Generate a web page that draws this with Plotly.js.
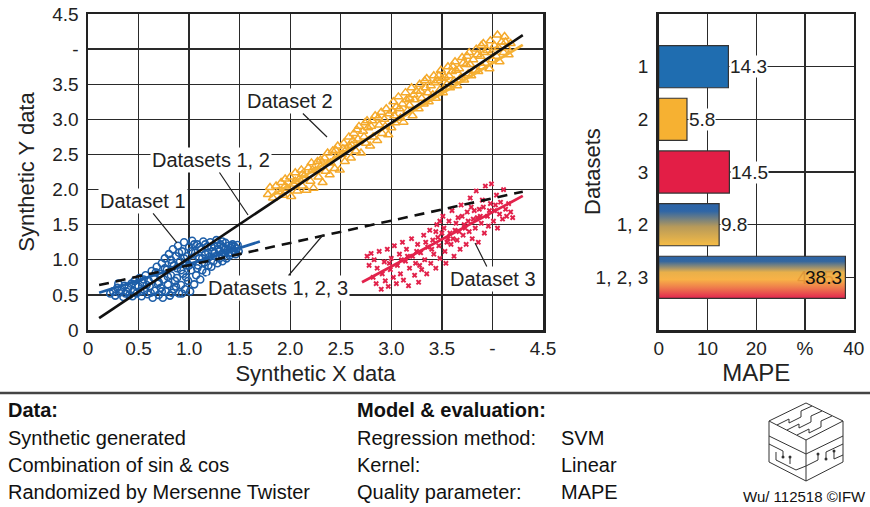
<!DOCTYPE html>
<html><head><meta charset="utf-8">
<script src="https://cdn.plot.ly/plotly-3.0.1.min.js"></script>
<style>html,body{margin:0;padding:0;background:#fff;} #chart{width:870px;height:507px;}</style>
</head><body><div id="chart"></div>
<script>
// ---------- Dataset 1 (blue circles) ----------
const d1x = [0.22,0.25,0.27,0.29,0.31,0.33,0.35,0.36,0.38,0.40,0.41,0.43,0.45,0.46,0.48,0.50,0.51,0.53,0.54,0.56,0.57,0.59,0.60,0.61,0.63,0.64,0.65,0.66,0.68,0.69,0.70,0.71,0.72,0.73,0.74,0.75,0.76,0.77,0.78,0.79,0.80,0.81,0.82,0.83,0.84,0.85,0.86,0.87,0.88,0.89,0.90,0.91,0.92,0.93,0.94,0.95,0.96,0.97,0.98,0.99,1.00,1.01,1.02,1.03,1.04,1.05,1.06,1.07,1.08,1.09,1.10,1.11,1.12,1.13,1.14,1.15,1.16,1.17,1.18,1.19,1.20,1.21,1.22,1.23,1.24,1.25,1.26,1.27,1.28,1.29,1.30,1.31,1.32,1.33,1.34,1.35,1.36,1.37,1.38,1.39,1.40,1.41,1.42,1.43,1.44,1.45,1.46,1.47,1.48,1.49,
  0.30,0.37,0.44,0.47,0.52,0.55,0.58,0.62,0.67,0.70,0.73,0.76,0.79,0.82,0.85,0.87,0.90,0.92,0.95,0.97,1.00,1.02,1.05,1.08,1.10,1.13,1.16,1.19,1.22,1.25,1.28,1.30,1.33,1.36,1.39,1.42,1.45,0.83,0.88,0.93];
const d1y = [0.52,0.55,0.49,0.60,0.53,0.57,0.47,0.63,0.55,0.60,0.50,0.66,0.56,0.70,0.52,0.62,0.74,0.48,0.67,0.57,0.78,0.51,0.70,0.62,0.84,0.46,0.74,0.56,0.90,0.66,0.50,0.80,0.60,0.95,0.46,0.72,1.02,0.55,0.86,0.65,1.08,0.49,0.78,0.95,1.15,0.58,0.70,1.05,0.88,1.20,0.52,0.98,0.64,1.12,0.80,1.25,0.58,0.92,1.05,0.70,1.18,0.55,0.85,1.27,0.98,0.65,1.10,0.78,1.22,0.92,1.02,0.72,1.15,0.85,1.26,0.96,1.08,0.82,1.19,0.92,1.04,1.25,0.90,1.12,0.98,1.20,1.05,1.28,0.95,1.15,1.02,1.22,1.08,0.98,1.18,1.10,1.24,1.02,1.14,1.20,1.06,1.17,1.10,1.22,1.13,1.19,1.08,1.16,1.21,1.12,
  0.66,0.52,0.48,0.63,0.55,0.72,0.64,0.53,0.82,0.68,0.55,0.88,0.76,1.00,0.92,0.62,1.10,0.85,1.02,0.75,0.92,1.12,1.22,0.88,1.18,1.02,1.22,1.10,1.18,1.10,1.24,1.12,1.26,1.15,1.09,1.20,1.12,0.53,0.74,0.52];

// ---------- Dataset 2 (orange triangles) ----------
const d2x = [1.78,1.80,1.83,1.86,1.88,1.91,1.93,1.95,1.97,2.00,2.01,2.03,2.05,2.07,2.09,2.11,2.12,2.14,2.16,2.18,2.20,2.21,2.23,2.25,2.27,2.28,2.30,2.32,2.34,2.35,2.37,2.39,2.40,2.42,2.44,2.46,2.47,2.49,2.51,2.53,2.54,2.56,2.58,2.60,2.61,2.63,2.65,2.67,2.68,2.70,2.72,2.74,2.75,2.77,2.79,2.81,2.82,2.84,2.86,2.88,2.90,2.91,2.93,2.95,2.97,2.98,3.00,3.02,3.04,3.05,3.07,3.09,3.11,3.12,3.14,3.16,3.18,3.20,3.21,3.23,3.25,3.27,3.28,3.30,3.32,3.34,3.35,3.37,3.39,3.41,3.42,3.44,3.46,3.48,3.49,3.51,3.53,3.55,3.56,3.58,3.60,3.62,3.63,3.65,3.67,3.69,3.70,3.72,3.74,3.76,3.77,3.79,3.81,3.83,3.84,3.86,3.88,3.90,3.91,3.93,3.95,3.97,3.98,4.00,4.02,4.04,4.05,4.07,4.09,4.11,4.12,4.14,4.16,4.18,
  1.95,2.05,2.12,2.22,2.30,2.38,2.45,2.52,2.58,2.66,2.73,2.80,2.87,2.94,3.01,3.08,3.15,3.22,3.29,3.36,3.43,3.50,3.57,3.64,3.71,3.78,3.85,3.92,3.99,4.06,4.13,2.62,2.76,3.03,3.18,3.33,3.47,3.61,3.75,3.89];
const d2y = [1.93,2.03,1.88,2.05,1.97,2.10,1.92,2.15,2.02,2.18,1.90,2.08,2.24,1.98,2.15,2.28,2.05,2.20,1.99,2.31,2.12,2.38,2.02,2.27,2.40,2.18,2.33,2.10,2.45,2.26,2.52,2.21,2.38,2.55,2.30,2.47,2.62,2.28,2.50,2.66,2.40,2.58,2.75,2.45,2.63,2.80,2.55,2.72,2.90,2.52,2.83,2.95,2.66,2.88,2.62,2.98,2.75,3.05,2.70,2.92,3.10,2.80,3.00,3.15,2.78,3.08,2.88,3.25,2.95,3.18,3.32,3.02,3.22,2.96,3.38,3.12,3.30,3.45,3.05,3.28,3.40,3.15,3.50,3.30,3.22,3.45,3.58,3.25,3.48,3.35,3.62,3.30,3.55,3.42,3.70,3.38,3.60,3.50,3.75,3.45,3.68,3.55,3.82,3.48,3.72,3.60,3.88,3.56,3.78,3.65,3.95,3.62,3.85,3.70,4.00,3.68,3.90,3.75,4.08,3.80,3.98,3.72,4.12,3.85,4.05,3.90,4.20,3.82,4.10,3.95,4.18,4.02,3.92,4.08,
  2.05,2.12,2.22,2.28,2.42,2.38,2.56,2.58,2.62,2.85,2.75,2.90,3.02,2.90,3.12,3.15,3.28,3.35,3.40,3.38,3.52,3.58,3.62,3.70,3.80,3.78,3.92,3.95,3.95,4.02,4.10,2.70,2.98,3.05,3.20,3.55,3.62,3.75,3.90,4.05];

// ---------- Dataset 3 (red crosses) ----------
const d3x = [2.76,2.78,2.80,2.82,2.83,2.85,2.86,2.88,2.90,2.91,2.93,2.94,2.96,2.97,2.99,3.00,3.02,3.03,3.05,3.06,3.08,3.09,3.11,3.12,3.14,3.15,3.17,3.18,3.20,3.21,3.23,3.24,3.26,3.27,3.29,3.30,3.32,3.33,3.35,3.36,3.38,3.39,3.41,3.42,3.44,3.45,3.47,3.48,3.50,3.51,3.53,3.54,3.56,3.57,3.59,3.60,3.62,3.63,3.65,3.66,3.68,3.69,3.71,3.72,3.74,3.75,3.77,3.78,3.80,3.81,3.83,3.84,3.86,3.87,3.89,3.90,3.92,3.93,3.95,3.96,3.98,3.99,4.01,4.02,4.04,4.05,4.07,4.08,4.10,4.11,4.13,4.14,4.16,4.18,4.20,
  3.25,3.34,3.46,3.52,3.58,3.64,3.70,3.76,3.82,3.88,3.40,3.55,3.61,3.73,3.85,3.97,3.48,3.67,2.98,3.10,3.16,3.28,3.44,3.79,3.91,4.03];
const d3y = [1.05,0.92,1.09,0.75,1.00,0.66,0.88,1.12,0.58,0.80,0.97,0.70,1.15,0.62,0.86,1.02,0.75,1.20,0.66,0.92,1.08,0.80,1.25,0.71,0.98,1.15,0.63,0.88,1.30,1.05,0.78,0.95,1.22,0.68,1.10,0.86,1.35,1.00,0.80,1.18,1.42,0.95,1.28,1.08,0.88,1.50,1.20,1.02,1.38,1.62,1.12,0.95,1.30,1.55,1.22,1.70,1.05,1.42,1.28,1.60,1.15,1.78,1.35,1.50,1.22,1.68,1.40,1.88,1.30,1.58,1.45,1.98,1.25,1.72,1.52,1.85,1.38,2.05,1.62,1.48,1.80,2.08,1.55,1.70,1.92,1.45,1.65,1.82,1.58,2.00,1.72,1.62,1.80,1.68,1.60,
  1.12,1.25,1.32,1.45,1.38,1.52,1.62,1.55,1.70,1.62,1.15,1.25,1.30,1.45,1.60,1.70,1.55,1.40,0.95,1.00,1.05,0.92,1.40,1.75,1.75,1.78];

// ---------- Regression lines (end points) ----------
const fit1x = [0.11, 1.70],  fit1y = [0.53, 1.26];
const fit2x = [1.80, 4.30],  fit2y = [1.90, 4.06];
const fit3x = [2.71, 4.30],  fit3y = [0.68, 1.91];
const fit12x = [0.11, 4.30], fit12y = [0.17, 4.20];
const fit123x = [0.11, 4.30], fit123y = [0.64, 1.97];

// ---------- Axis ticks ----------
const mainTickVals = [0,0.5,1,1.5,2,2.5,3,3.5,4,4.5];
const xTickText = ['0','0.5','1.0','1.5','2.0','2.5','3.0','3.5','-','4.5'];
const yTickText = ['0','0.5','1.0','1.5','2.0','2.5','3.0','3.5','-','4.5'];

// ---------- MAPE bar chart ----------
const mapeCategories = ['1','2','3','1, 2','1, 2, 3'];
const mapeBarLengths = [14.3, 5.8, 14.5, 12.4, 38.3];   // bar lengths as drawn
const mapeLabels = ['14.3', '5.8', '14.5', '9.8', '38.3']; // printed values
const mapeTickVals = [0,10,20,30,40];
const mapeTickText = ['0','10','20','%','40'];

// ---------- Styling ----------
const FONT = 'Liberation Sans, Arial, Helvetica, sans-serif';
const INK = '#222';
const BLUE = '#1d5ea8', ORANGE = '#f5aa2c', RED = '#e2224b';
const W = 870, H = 507;
const px = x => x / W, py = y => 1 - y / H;

const traces = [];
traces.push({x:d1x, y:d1y, type:'scatter', mode:'markers', name:'Dataset 1',
  marker:{symbol:'circle-open', size:7, color:BLUE, line:{width:1.6, color:BLUE}}, hoverinfo:'skip'});
traces.push({x:d2x, y:d2y, type:'scatter', mode:'markers', name:'Dataset 2',
  marker:{symbol:'triangle-up-open', size:8, color:ORANGE, line:{width:1.5, color:ORANGE}}, hoverinfo:'skip'});
traces.push({x:d3x, y:d3y, type:'scatter', mode:'markers', name:'Dataset 3',
  marker:{symbol:'x', size:5, color:RED, line:{width:0}}, hoverinfo:'skip'});
traces.push({x:fit1x, y:fit1y, type:'scatter', mode:'lines', line:{color:BLUE, width:2.8}, hoverinfo:'skip'});
traces.push({x:fit2x, y:fit2y, type:'scatter', mode:'lines', line:{color:'#f5b236', width:2.8}, hoverinfo:'skip'});
traces.push({x:fit3x, y:fit3y, type:'scatter', mode:'lines', line:{color:RED, width:2.8}, hoverinfo:'skip'});
traces.push({x:fit12x, y:fit12y, type:'scatter', mode:'lines', line:{color:'#111', width:2.6}, hoverinfo:'skip'});
traces.push({x:fit123x, y:fit123y, type:'scatter', mode:'lines', line:{color:'#111', width:2.6, dash:'10px,7px'}, hoverinfo:'skip'});

// Solid bars (datasets 1, 2, 3)
const solidColors = ['#1f6db0', '#f6b132', '#e31e46'];
traces.push({type:'bar', orientation:'h', x:mapeBarLengths.slice(0,3), y:[0,1,2], width:0.8,
  marker:{color:solidColors, line:{color:'#333', width:1.2}}, xaxis:'x2', yaxis:'y2', hoverinfo:'skip'});

// Gradient bars (combined datasets) drawn as filled polygons
const gradScales = [
  [[0,'#2c64a8'],[0.18,'#2f66a6'],[0.55,'#b79a5a'],[1,'#f7bc44']],
  [[0,'#2c64a8'],[0.12,'#34679f'],[0.38,'#e9b04a'],[0.55,'#f8b247'],[0.75,'#ee7a4c'],[1,'#e3244f']]
];
[3,4].forEach((i, k) => {
  const v = mapeBarLengths[i];
  traces.push({type:'scatter', mode:'lines', xaxis:'x2', yaxis:'y2', hoverinfo:'skip',
    x:[0, v, v, 0, 0], y:[i-0.4, i-0.4, i+0.4, i+0.4, i-0.4],
    fill:'toself', fillgradient:{type:'vertical', colorscale:gradScales[k], start:i-0.4, stop:i+0.4},
    line:{color:'#333', width:1.2}});
});

const annotations = [];
// Callout labels on the scatter chart
const callouts = [
  {text:'Dataset 2', x:2.364, y:2.749, ax:-37, ay:-36},
  {text:'Datasets 1, 2', x:1.583, y:1.638, ax:-37, ay:-55},
  {text:'Dataset 1', x:0.880, y:1.239, ax:-34, ay:-42},
  {text:'Datasets 1, 2, 3', x:2.324, y:1.353, ax:-45, ay:53},
  {text:'Dataset 3', x:3.828, y:1.239, ax:18, ay:36}
];
callouts.forEach(c => annotations.push({xref:'x', yref:'y', x:c.x, y:c.y, ax:c.ax, ay:c.ay, text:c.text,
  showarrow:true, arrowhead:0, arrowwidth:1.2, arrowcolor:INK, standoff:0, startstandoff:0,
  bgcolor:'#fff', borderpad:1, font:{family:FONT, size:20, color:INK}}));

// Bar value labels
annotations.push({xref:'x2', yref:'y2', x:36.4, y:4, text:'44.5', showarrow:false, xanchor:'right',
  font:{family:FONT, size:19, color:'rgba(205,125,40,0.45)'}});
mapeLabels.forEach((t, i) => {
  const v = mapeBarLengths[i];
  if (i < 4) {
    annotations.push({xref:'x2', yref:'y2', x:v, y:i, text:t, showarrow:false, xanchor:'left', xshift:1,
      bgcolor:'#fff', borderpad:0, font:{family:FONT, size:19, color:INK}});
  } else {
    annotations.push({xref:'x2', yref:'y2', x:v, y:i, text:t, showarrow:false, xanchor:'right', xshift:-1,
      font:{family:FONT, size:19, color:'#111'}});
  }
});
// Bar chart y title
annotations.push({xref:'paper', yref:'paper', x:px(593), y:py(172), text:'Datasets', textangle:-90, showarrow:false,
  xanchor:'center', yanchor:'middle', font:{family:FONT, size:22, color:INK}});

// Info block text
const txt = (x, y, t, bold, size, anchor) => annotations.push({xref:'paper', yref:'paper', x:px(x), y:py(y),
  text: bold ? '<b>'+t+'</b>' : t, showarrow:false, xanchor:anchor||'left', yanchor:'middle',
  font:{family:FONT, size:size||20, color:'#111'}});
txt(6, 410, 'Data:', true);
txt(6, 438, 'Synthetic generated');
txt(6, 465, 'Combination of sin &amp; cos');
txt(6, 492, 'Randomized by Mersenne Twister');
txt(355, 410, 'Model &amp; evaluation:', true);
txt(355, 438, 'Regression method:');
txt(355, 465, 'Kernel:');
txt(355, 492, 'Quality parameter:');
txt(559, 438, 'SVM');
txt(559, 465, 'Linear');
txt(559, 492, 'MAPE');
txt(868, 496, 'Wu/ 112518 ©IFW', false, 15, 'right');

// Shapes: separator line and logo
const path = pts => pts.map((p, j) => (j ? 'L' : 'M') + px(p[0]).toFixed(5) + ',' + py(p[1]).toFixed(5)).join(' ');
const shapes = [
  {type:'line', xref:'paper', yref:'paper', x0:0, x1:1, y0:py(393), y1:py(393), line:{color:'#444', width:2.5}}
];
const logoPaths = [
  [[769,421],[806,403],[843,421],[843,462],[806,481],[769,462],[769,421]],
  [[769,421],[806,440],[843,421]],
  [[806,440],[806,481]],
  [[777,425],[789,419],[789,423],[801,417],[801,411],[812,406]],
  [[787,430],[799,424],[799,428],[811,422],[811,416],[822,411]],
  [[797,435],[809,429],[809,433],[821,427],[821,421],[832,416]],
  [[769,436],[806,454]],
  [[806,454],[843,436]],
  [[769,444],[783,451],[783,456]],
  [[776,452],[776,460],[796,470],[806,466]],
  [[790,458],[790,464]],
  [[843,444],[826,452],[826,458]],
  [[806,466],[818,460],[818,455]],
  [[834,452],[834,459],[843,455]]
];
logoPaths.forEach(p => shapes.push({type:'path', xref:'paper', yref:'paper', path:path(p), line:{color:'#333', width:1}}));
[[783,457],[790,457],[826,459],[818,454],[834,451]].forEach(c => shapes.push({type:'circle', xref:'paper', yref:'paper',
  x0:px(c[0]-1.5), x1:px(c[0]+1.5), y0:py(c[1]+1.5), y1:py(c[1]-1.5), fillcolor:'#333', line:{width:0}}));

const axBase = {showline:true, mirror:true, linecolor:INK, linewidth:2.5, showgrid:true, gridcolor:'#2a2a2a', gridwidth:1.4,
  zeroline:false, ticks:'', tickmode:'array', tickfont:{family:FONT, size:19, color:INK}, fixedrange:true};

const layout = {
  width:W, height:H, margin:{l:0, r:0, t:0, b:0}, paper_bgcolor:'#fff', plot_bgcolor:'#fff', showlegend:false,
  font:{family:FONT, color:INK},
  xaxis: Object.assign({}, axBase, {domain:[px(88), px(543)], range:[0,4.5], tickvals:mainTickVals, ticktext:xTickText,
    ticklabelstandoff:0, title:{text:'Synthetic X data', font:{family:FONT, size:22, color:INK}, standoff:8}}),
  yaxis: Object.assign({}, axBase, {domain:[py(330), py(14)], range:[0,4.5], tickvals:mainTickVals, ticktext:yTickText,
    ticklabelstandoff:3, title:{text:'Synthetic Y data', font:{family:FONT, size:22, color:INK}, standoff:12}}),
  xaxis2: Object.assign({}, axBase, {domain:[px(658.7), px(853.7)], range:[0,40], anchor:'y2', tickvals:mapeTickVals, ticktext:mapeTickText,
    ticklabelstandoff:0, title:{text:'MAPE', font:{family:FONT, size:24, color:INK}, standoff:4}}),
  yaxis2: Object.assign({}, axBase, {domain:[py(330), py(14)], range:[5,-1], anchor:'x2', tickvals:[0,1,2,3,4], ticktext:mapeCategories,
    ticklabelstandoff:4}),
  annotations: annotations, shapes: shapes
};

Plotly.newPlot('chart', traces, layout, {staticPlot:true, displayModeBar:false});
</script></body></html>
